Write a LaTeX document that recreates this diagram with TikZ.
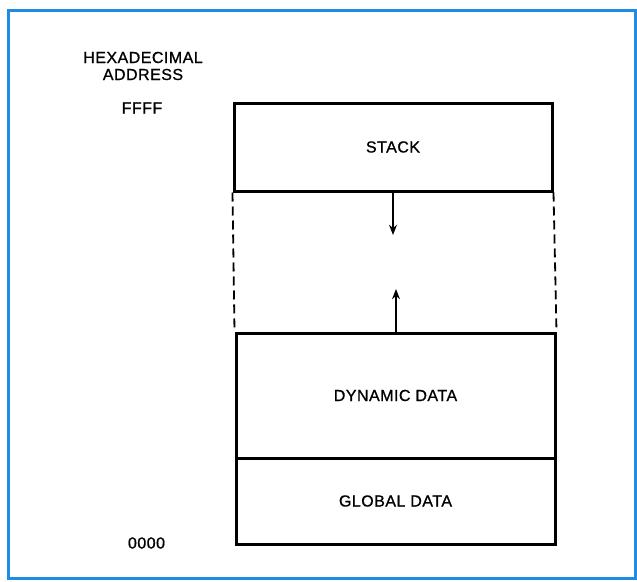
\documentclass[tikz,border=0pt]{standalone}
\usepackage{fontspec}
\setmainfont{Liberation Sans}[FakeBold=0.9,LetterSpace=3]
\usepackage{tikz}
\usetikzlibrary{positioning,arrows.meta,calc}
\definecolor{memframe}{RGB}{30,140,228}
\tikzset{
  mem arrow/.style={-{Stealth[length=3.6mm,width=2.8mm]},line width=1.5pt,black},
  mem block/.style={draw=black,line width=3pt,minimum width=319pt,inner sep=0pt,
    font=\fontsize{16}{17}\selectfont},
  mem label/.style={font=\fontsize{16}{17}\selectfont,inner sep=0pt,align=center},
  mem gap/.style={dashed,dash pattern=on 9pt off 5pt,line width=1.8pt,black}
}

\begin{document}
\begin{tikzpicture}[x=1pt,y=-1pt]
  \useasboundingbox (0,0) rectangle (637,581);
  \draw[memframe,line width=3pt] (8,10) rectangle (635,578);

  % Memory blocks, top to bottom
  \node[mem block,minimum width=318pt,minimum height=88pt] (stack) at (393,147) {STACK};
  \node[mem block,minimum height=125pt] (dynamic) at (395.5,395.5) {DYNAMIC DATA};
  \node[mem block,minimum height=86pt] (global) at (395.5,501) {GLOBAL DATA};

  % Free area between stack and heap
  \draw[mem gap] (stack.south west) -- (dynamic.north west);
  \draw[mem gap] (stack.south east) -- (dynamic.north east);
  \coordinate (stacktip) at (393,235);
  \coordinate (heaptip) at (396,289);
  \draw[mem arrow] (stack.south) -- (stacktip);
  \draw[mem arrow] (dynamic.north -| heaptip) -- (heaptip);

  % Address labels
  \node[mem label] (hexlabel) at (143,66) {HEXADECIMAL\\ADDRESS};
  \node[mem label] (topaddr) at (142,108) {FFFF};
  \node[mem label] (botaddr) at (146.5,543) {0000};
\end{tikzpicture}
\end{document}
